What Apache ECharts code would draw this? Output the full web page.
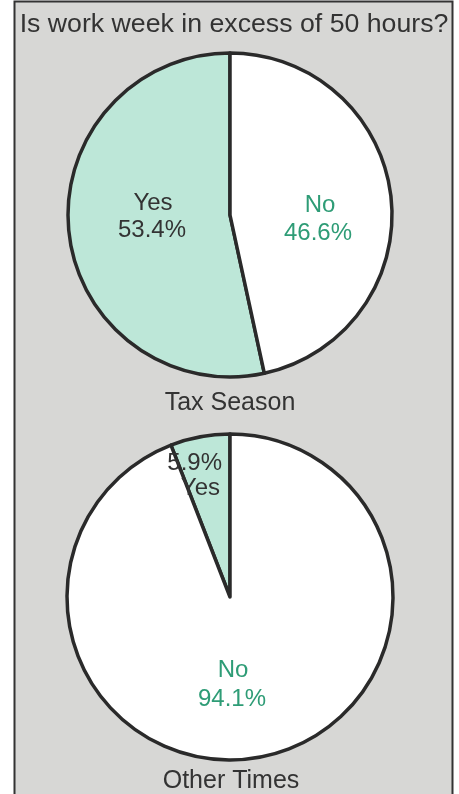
<!DOCTYPE html>
<html>
<head>
<meta charset="utf-8">
<script src="https://cdn.jsdelivr.net/npm/echarts@6/dist/echarts.min.js"></script>
<style>
html,body{margin:0;padding:0;background:#ffffff;}
#chart{width:459px;height:794px;}
</style>
</head>
<body>
<div id="chart"></div>
<script>
const title = 'Is work week in excess of 50 hours?';
const categories = ['Yes', 'No'];
const taxSeason = [53.4, 46.6];
const otherTimes = [5.9, 94.1];
const pieTitles = ['Tax Season', 'Other Times'];

const FONT = '"Liberation Sans", Arial, Helvetica, sans-serif';
const DARK = '#333333';
const GREEN = '#2e9c76';
const MINT = '#bde7d8';

function pieSeries(values, center, radius) {
  return {
    type: 'pie',
    center: center,
    radius: radius,
    startAngle: 90,
    clockwise: false,
    silent: true,
    label: { show: false },
    labelLine: { show: false },
    itemStyle: { borderColor: '#2a2a2a', borderWidth: 3.5 },
    data: categories.map((c, i) => ({
      name: c,
      value: values[i],
      itemStyle: { color: i === 0 ? MINT : '#ffffff' }
    }))
  };
}

function txt(text, x, y, size, color, align) {
  return {
    type: 'text',
    x: x, y: y,
    silent: true,
    z: 10,
    style: {
      text: text,
      font: size + 'px ' + FONT,
      fill: color,
      align: align || 'center',
      verticalAlign: 'middle'
    }
  };
}

const chart = echarts.init(document.getElementById('chart'), null, { renderer: 'canvas' });
chart.setOption({
  animation: false,
  backgroundColor: '#ffffff',
  graphic: [
    {
      type: 'rect', z: -10, silent: true,
      shape: { x: 14.5, y: 1.5, width: 438, height: 810 },
      style: { fill: '#d7d7d5', stroke: '#333333', lineWidth: 2 }
    },
    txt(title, 234, 24.5, 26.7, DARK),
    txt(categories[0], 153, 203.5, 24, DARK),
    txt(taxSeason[0].toFixed(1) + '%', 152, 230, 24, DARK),
    txt(categories[1], 320, 205, 24, GREEN),
    txt(taxSeason[1].toFixed(1) + '%', 318, 233, 24, GREEN),
    txt(pieTitles[0], 230, 403.5, 25, DARK),
    txt(otherTimes[0].toFixed(1) + '%', 222, 463.5, 24, DARK, 'right'),
    txt(categories[0], 220, 488.5, 24, DARK, 'right'),
    txt(categories[1], 233, 670, 24, GREEN),
    txt(otherTimes[1].toFixed(1) + '%', 232, 699.5, 24, GREEN),
    txt(pieTitles[1], 231, 781.5, 25, DARK)
  ],
  series: [
    pieSeries(taxSeason, [230, 215], 162),
    pieSeries(otherTimes, [230, 597], 163)
  ]
});
</script>
</body>
</html>
